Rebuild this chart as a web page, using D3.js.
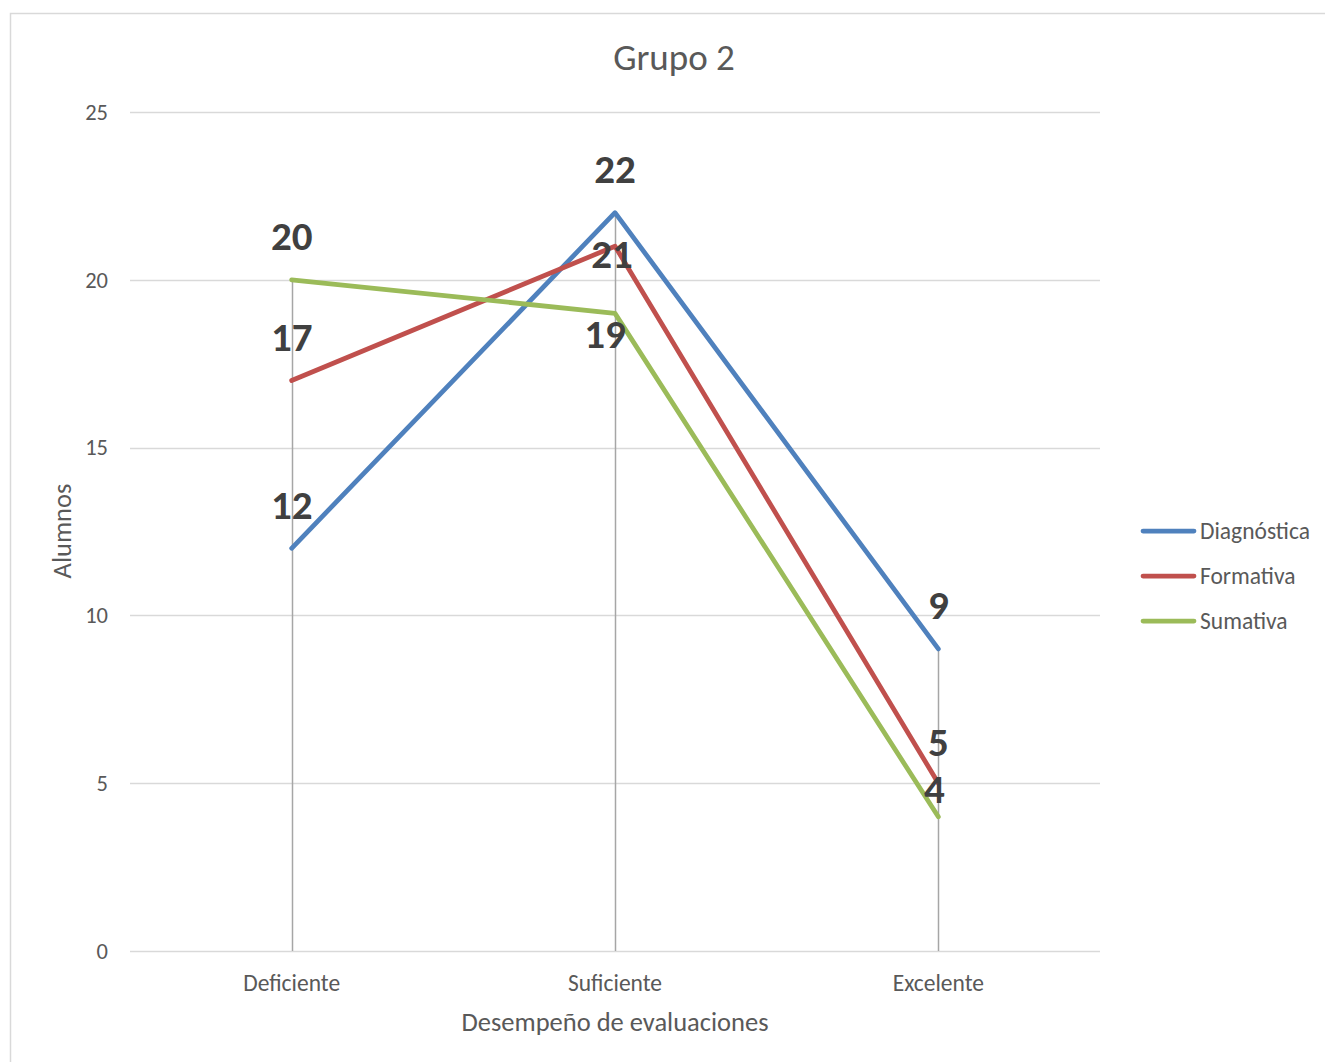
<!DOCTYPE html>
<html><head><meta charset="utf-8">
<script src="https://cdn.jsdelivr.net/npm/d3@7"></script>
<style>body{margin:0;background:#fff}svg{display:block}text{font-family:Carlito,Lato,"Open Sans",sans-serif}</style>
</head><body>
<script>
const categories = ["Deficiente","Suficiente","Excelente"];
const seriesNames = ["Diagnóstica","Formativa","Sumativa"];
const diagnostica = [12,22,9];
const formativa = [17,21,5];
const sumativa = [20,19,4];
const yTicks = [0,5,10,15,20,25];
const colors = ["#4F81BD","#C0504D","#9BBB59"];
const seriesValues = [diagnostica, formativa, sumativa];

const W=1325,H=1062;
const svg=d3.select("body").append("svg").attr("width",W).attr("height",H);
svg.append("rect").attr("x",10.5).attr("y",13.5).attr("width",W+20).attr("height",H+20).attr("fill","#fff").attr("stroke","#d9d9d9").attr("stroke-width",1.5);

const x=d3.scaleBand().domain(categories).range([130,1100]).padding(0);
const y=d3.scaleLinear().domain([0,25]).range([951,112]);
const cx=c=>x(c)+x.bandwidth()/2;

// gridlines
svg.append("g").selectAll("line").data(yTicks).join("line")
 .attr("x1",130).attr("x2",1100).attr("y1",d=>Math.round(y(d))+0.5).attr("y2",d=>Math.round(y(d))+0.5)
 .attr("stroke","#d9d9d9").attr("stroke-width",1.5);
// y tick labels
svg.append("g").selectAll("text").data(yTicks).join("text")
 .attr("x",108).attr("y",d=>y(d)).attr("dy","0.35em").attr("text-anchor","end")
 .attr("font-size",22.5).attr("fill","#595959").text(d=>d);
// category labels
svg.append("g").selectAll("text").data(categories).join("text")
 .attr("x",cx).attr("y",983).attr("dy","0.35em").attr("text-anchor","middle")
 .attr("font-size",23.5).attr("fill","#595959").text(d=>d);
// drop lines
svg.append("g").selectAll("line").data(categories).join("line")
 .attr("x1",d=>Math.round(cx(d))+0.5).attr("x2",d=>Math.round(cx(d))+0.5)
 .attr("y1",(d,i)=>y(d3.max(seriesValues,s=>s[i]))).attr("y2",y(0))
 .attr("stroke","#a6a6a6").attr("stroke-width",1.5);

// lines
const line=d3.line().x((d,i)=>cx(categories[i])).y(d=>y(d));
seriesValues.forEach((s,k)=>{
  svg.append("path").datum(s).attr("d",line).attr("fill","none")
   .attr("stroke",colors[k]).attr("stroke-width",4.75).attr("stroke-linejoin","round").attr("stroke-linecap","round");
});

// data labels (per series/category adjustments mimic original placement)
const labelAdjust={ "1-1":[-3,51], "2-1":[-10,64], "2-2":[-4,16], "1-2":[0,2] };
seriesValues.forEach((s,k)=>{
  s.forEach((v,i)=>{
    const a=labelAdjust[k+"-"+i]||[0,0];
    svg.append("text").attr("x",cx(categories[i])+a[0]).attr("y",y(v)-44+a[1]).attr("dy","0.35em")
     .attr("text-anchor","middle").attr("font-size",41).attr("font-weight","bold").attr("fill","#404040").text(v);
  });
});

// title
svg.append("text").attr("x",674).attr("y",57).attr("dy","0.35em").attr("text-anchor","middle")
 .attr("font-size",37).attr("fill","#595959").text("Grupo 2");
// axis titles
svg.append("text").attr("x",615).attr("y",1022).attr("dy","0.35em").attr("text-anchor","middle")
 .attr("font-size",26.5).attr("fill","#595959").text("Desempeño de evaluaciones");
svg.append("text").attr("transform","translate(62,531) rotate(-90)").attr("dy","0.35em").attr("text-anchor","middle")
 .attr("font-size",26.5).attr("fill","#595959").text("Alumnos");

// legend
const lg=svg.append("g").selectAll("g").data(seriesNames).join("g")
 .attr("transform",(d,i)=>`translate(0,${531+i*45})`);
lg.append("line").attr("x1",1143).attr("x2",1194).attr("stroke",(d,i)=>colors[i]).attr("stroke-width",4.75).attr("stroke-linecap","round");
lg.append("text").attr("x",1200).attr("dy","0.35em").attr("font-size",23.5).attr("fill","#595959").text(d=>d);
</script>
</body></html>
